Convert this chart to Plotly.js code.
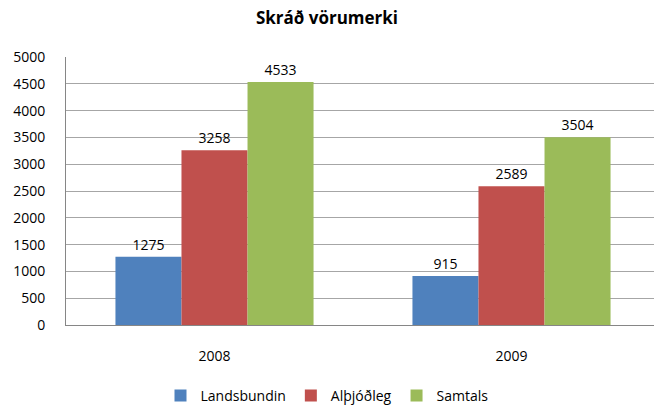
<!DOCTYPE html>
<html><head><meta charset="utf-8">
<script src="https://cdn.plot.ly/plotly-3.0.1.min.js"></script>
<style>body{margin:0;padding:0;background:#fff}</style>
</head><body>
<div id="chart" style="width:654px;height:412px"></div>
<script>
const categories = ["2008", "2009"];
const seriesNames = ["Landsbundin", "Alþjóðleg", "Samtals"];
const landsbundin = [1275, 915];
const althjodleg = [3258, 2589];
const samtals = [4533, 3504];
const yTicks = [0, 500, 1000, 1500, 2000, 2500, 3000, 3500, 4000, 4500, 5000];

const colors = ["#4f81bd", "#c0504d", "#9bbb59"];
const values = [landsbundin, althjodleg, samtals];
const fontFam = "Open Sans, Noto Sans, sans-serif";

const traces = values.map((v, i) => ({
  type: "bar",
  name: seriesNames[i],
  x: [0, 1],
  y: v,
  marker: {color: colors[i]},
  text: v.map(String),
  textposition: "outside",
  cliponaxis: false,
  textfont: {family: fontFam, size: 14, color: "#000"},
  hoverinfo: "skip"
}));

const layout = {
  width: 654, height: 412,
  paper_bgcolor: "#fff", plot_bgcolor: "#fff",
  margin: {l: 66, r: 0, t: 57, b: 87, autoexpand: false},
  title: {text: "<b>Skráð vörumerki</b>", font: {family: fontFam, size: 17, color: "#000"},
          x: 0.5, xanchor: "center", y: 1 - 18/412, yref: "container", yanchor: "middle"},
  barmode: "group",
  bargap: 0.333, bargroupgap: 0,
  showlegend: true,
  legend: {orientation: "h", x: 0.5, xanchor: "center", xref: "container",
           y: 0, yanchor: "bottom", yref: "container",
           font: {family: fontFam, size: 14, color: "#000"}, itemwidth: 30, traceorder: "normal"},
  xaxis: {
    range: [-0.5, -0.5 + 588/297],
    tickvals: [0, 1], ticktext: categories,
    showgrid: false, zeroline: false,
    showline: true, linecolor: "#868686", linewidth: 1,
    ticks: "", ticklabelstandoff: 18, automargin: false,
    tickfont: {family: fontFam, size: 14, color: "#000"},
    fixedrange: true
  },
  yaxis: {
    range: [0, 5000],
    tickvals: yTicks,
    showgrid: true, gridcolor: "#a6a6a6", gridwidth: 1,
    zeroline: false,
    showline: true, linecolor: "#868686", linewidth: 1,
    ticks: "", ticklabelstandoff: 17, automargin: false,
    tickfont: {family: fontFam, size: 14, color: "#000"},
    fixedrange: true
  }
};

Plotly.newPlot("chart", traces, layout, {staticPlot: true, displayModeBar: false});
</script>
</body></html>
